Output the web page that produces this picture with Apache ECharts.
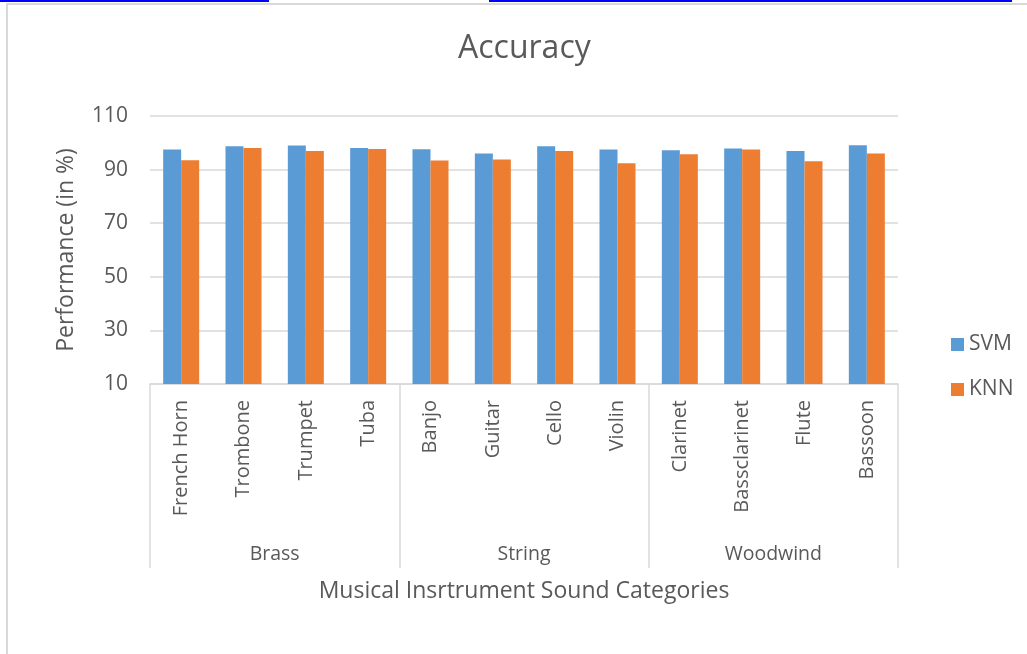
<!DOCTYPE html>
<html>
<head>
<meta charset="utf-8">
<title>Accuracy</title>
<script src="https://cdn.jsdelivr.net/npm/echarts@6/dist/echarts.min.js"></script>
<style>
	html, body { margin: 0; padding: 0; background: #fff; }
	#accuracyChart { width: 1027px; height: 654px; }
</style>
</head>
<body>
<div id="accuracyChart"></div>
<script>
var instruments = ['French Horn', 'Trombone', 'Trumpet', 'Tuba', 'Banjo', 'Guitar', 'Cello', 'Violin', 'Clarinet', 'Bassclarinet', 'Flute', 'Bassoon']
var groups = ['Brass', 'String', 'Woodwind']
var svmData = [97.5, 98.7, 99.0, 98.1, 97.6, 96.0, 98.7, 97.5, 97.2, 97.9, 96.9, 99.1]
var knnData = [93.5, 98.1, 96.9, 97.7, 93.4, 93.8, 96.9, 92.4, 95.7, 97.5, 93.1, 96.0]
var yTicks = { min: 10, max: 110, interval: 20 }

function drawAccuracy() {
	var chartDom = document.getElementById('accuracyChart')
	var myChart = echarts.init(chartDom)
	var textColor = '#595959'
	var lineColor = '#D9D9D9'
	var font = 'Open Sans'
	var option

	option = {
		animation: false,
		title: {
			text: 'Accuracy',
			left: 453,
			top: 28,
			textStyle: {
				fontFamily: font,
				fontSize: 32,
				fontWeight: 'normal',
				color: textColor,
			},
		},
		legend: {
			orient: 'vertical',
			left: 946,
			top: 329,
			itemWidth: 13,
			itemHeight: 13,
			itemGap: 24,
			icon: 'rect',
			data: ['SVM', 'KNN'],
			textStyle: {
				fontFamily: font,
				fontSize: 21,
				color: textColor,
			},
		},
		grid: {
			left: 150,
			right: 129,
			top: 116,
			bottom: 270,
		},
		xAxis: [
			{
				type: 'category',
				data: instruments,
				axisLine: { lineStyle: { color: lineColor, width: 1.5 } },
				axisTick: { show: false },
				axisLabel: {
					rotate: 90,
					interval: 0,
					margin: 16,
					fontFamily: font,
					fontSize: 20,
					color: textColor,
				},
			},
			{
				type: 'category',
				position: 'bottom',
				data: groups,
				axisLine: { show: false },
				axisTick: {
					show: true,
					interval: 0,
					length: 184,
					lineStyle: { color: lineColor, width: 1.5 },
				},
				axisLabel: {
					interval: 0,
					margin: 160,
					fontFamily: font,
					fontSize: 19.5,
					color: textColor,
				},
				name: 'Musical Insrtrument Sound Categories',
				nameLocation: 'middle',
				nameGap: 196,
				nameTextStyle: {
					fontFamily: font,
					fontSize: 23,
					color: textColor,
				},
			},
		],
		yAxis: {
			type: 'value',
			min: yTicks.min,
			max: yTicks.max,
			interval: yTicks.interval,
			axisLine: { show: false },
			axisTick: { show: false },
			splitLine: { lineStyle: { color: lineColor, width: 1.5 } },
			axisLabel: {
				margin: 22,
				fontFamily: font,
				fontSize: 21,
				color: textColor,
			},
			name: 'Performance (in %)',
			nameLocation: 'middle',
			nameGap: 72,
			nameTextStyle: {
				fontFamily: font,
				fontSize: 23,
				color: textColor,
			},
		},
		series: [
			{
				name: 'SVM',
				type: 'bar',
				xAxisIndex: 0,
				data: svmData,
				barWidth: 18,
				barGap: '0%',
				itemStyle: { color: '#5B9BD5' },
			},
			{
				name: 'KNN',
				type: 'bar',
				xAxisIndex: 0,
				data: knnData,
				barWidth: 18,
				barGap: '0%',
				itemStyle: { color: '#ED7D31' },
			},
		],
		graphic: [
			// page frame left behind in the screenshot
			{ type: 'rect', shape: { x: 0, y: 0, width: 269, height: 2 }, style: { fill: '#0000FF' } },
			{ type: 'rect', shape: { x: 489, y: 0, width: 523, height: 2 }, style: { fill: '#0000FF' } },
			{ type: 'rect', shape: { x: 6, y: 3, width: 1021, height: 2 }, style: { fill: '#D9D9D9' } },
			{ type: 'rect', shape: { x: 6, y: 3, width: 2, height: 651 }, style: { fill: '#D9D9D9' } },
		],
	}

	option && myChart.setOption(option)
}

drawAccuracy()
</script>
</body>
</html>
